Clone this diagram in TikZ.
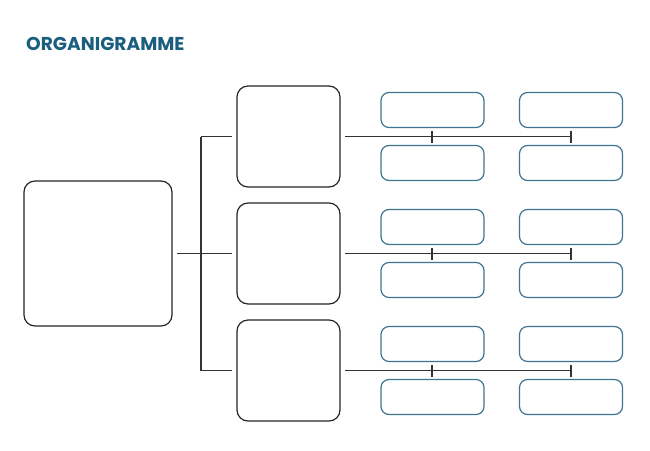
\documentclass[tikz,border=0pt]{standalone}
\usepackage{fontspec}
\setmainfont{Poppins}
\definecolor{ttl}{HTML}{1B5E7E}
\definecolor{sb}{HTML}{3F7590}
\begin{document}
\begin{tikzpicture}[x=1pt,y=-1pt,
 big/.style={draw=black!85,line width=1.2pt,rounded corners=11pt},
 sm/.style={draw=sb,line width=1.2pt,rounded corners=8pt},
 ln/.style={draw=black!80,line width=1.1pt}]
\useasboundingbox[fill=white] (0,0) rectangle (650,450);
\node[anchor=base west,text=ttl,font=\bfseries\fontsize{18.6}{22}\selectfont,inner sep=0] (t) at (26,50.5) {ORGANIGRAMME};
\node[big,minimum width=148pt,minimum height=145pt] (m) at (98,253.5) {};
\foreach \i/\y in {1/136.5,2/253.5,3/370.5}{
 \node[big,minimum width=103pt,minimum height=101pt] (b\i) at (288.5,\y) {};
 \foreach \j/\x in {a/432.5,b/571}{
  \node[sm,minimum width=103pt,minimum height=35pt] (u\i\j) at (\x,\y-26.5) {};
  \node[sm,minimum width=103pt,minimum height=35pt] (d\i\j) at (\x,\y+26.5) {};
 }
 \coordinate (s\i) at (345,\y);
 \coordinate (e\i) at (571,\y);
 \coordinate (k\i) at (432,\y);
 \draw[ln] (s\i) -- (e\i);
 \draw[ln] ([yshift=-6]k\i) -- ([yshift=6]k\i);
 \draw[ln] ([yshift=-6]e\i) -- ([yshift=6]e\i);
 \coordinate (c\i) at (232,\y);
 \coordinate (v\i) at (201,\y);
 \draw[ln] (v\i) -- (c\i);
}
\coordinate (mr) at (177,253.5);
\draw[ln] (mr) -- (c2);
\draw[ln] (v1) -- (v3);
\end{tikzpicture}
\end{document}
